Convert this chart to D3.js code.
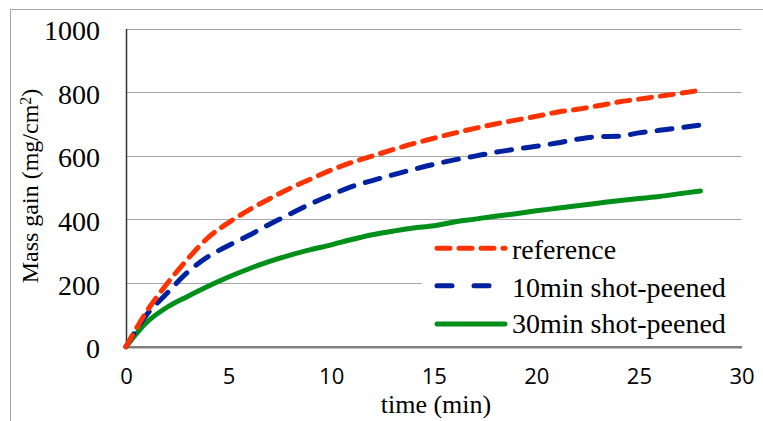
<!DOCTYPE html>
<html><head><meta charset="utf-8">
<script src="https://cdn.jsdelivr.net/npm/d3@7"></script>
<style>body{margin:0;background:#fff}svg{display:block}</style>
</head><body>
<script>
const times = [0,1,2,3,4,5,6,7,8,9,10,11,12,13,14,15,16,17,18,19,20,21,22,23,24,25,26,27,28];
const referenceVals = [0,110,198,275,343,390,430,465,498,527,555,579,599,619,638,655,671,686,700,712,724,737,746,757,769,778,787,796,806];
const shot10Vals = [0,100,168,234,283,318,350,385,417,449,477,503,522,540,557,573,587,599,611,621,630,640,652,660,661,672,680,688,697];
const shot30Vals = [0,76,124,158,190,219,245,268,288,305,320,337,352,363,373,380,392,401,410,418,427,435,443,451,459,466,472,481,489];
const seriesNames = ["reference","10min shot-peened","30min shot-peened"];
const xTicks = [0,5,10,15,20,25,30];
const yTicks = [0,200,400,600,800,1000];

const W=763,H=421;
const svg=d3.select("body").append("svg").attr("width",W).attr("height",H);
const x=d3.scaleLinear().domain([0,30]).range([126,741.5]);
const y=d3.scaleLinear().domain([0,1000]).range([346.7,28.5]);
const serif="'Liberation Serif','Times New Roman',serif";

svg.append("rect").attr("x",10.5).attr("y",9.5).attr("width",900).attr("height",600)
  .attr("fill","none").attr("stroke","#a6a6a6").attr("stroke-width",1);

// gridlines
svg.append("g").selectAll("line").data(yTicks.filter(d=>d>0)).join("line")
  .attr("x1",x(0)).attr("x2",x(30)).attr("y1",d=>Math.round(y(d))+0.5).attr("y2",d=>Math.round(y(d))+0.5)
  .attr("stroke","#a6a6a6").attr("stroke-width",1.2);

// y axis
const ya=svg.append("g").attr("transform",`translate(${x(0)},0)`)
  .call(d3.axisLeft(y).tickValues(yTicks).tickSize(0).tickPadding(26).tickFormat(d3.format("d")));
ya.select(".domain").attr("stroke","#333").attr("stroke-width",1.5);
ya.selectAll("text").attr("font-family",serif).attr("font-size",28).attr("fill","#000").attr("dy","0.4em");

// x axis
const xa=svg.append("g").attr("transform",`translate(0,${y(0)})`)
  .call(d3.axisBottom(x).tickValues(xTicks).tickSize(0).tickPadding(22).tickFormat(d3.format("d")));
xa.select(".domain").attr("stroke","#808080").attr("stroke-width",2.5);
xa.selectAll("text").attr("font-family","'Open Sans',sans-serif").attr("font-size",22).attr("fill","#000");

// titles
svg.append("text").attr("x",436).attr("y",413).attr("text-anchor","middle")
  .attr("font-family",serif).attr("font-size",26).text("time (min)");
const yt=svg.append("text").attr("transform","translate(38,186) rotate(-90)").attr("text-anchor","middle")
  .attr("font-family",serif).attr("font-size",24);
yt.append("tspan").text("Mass gain (mg/cm");
yt.append("tspan").attr("dy","-0.45em").attr("font-size",16).text("2");
yt.append("tspan").attr("dy","0.3em").text(")");

const styles=[
  {color:"#ff3300",dash:"13,9",legendDash:"13,9"},
  {color:"#0022a0",dash:"15,12",legendDash:"15,22"},
  {color:"#00901a",dash:null,legendDash:null}
];
const allVals=[referenceVals,shot10Vals,shot30Vals];
const line=d3.line().x((d,i)=>x(times[i])).y(d=>y(d)).curve(d3.curveMonotoneX);

// legend background
svg.append("rect").attr("x",422).attr("y",226).attr("width",319).attr("height",119).attr("fill","#fff");

// draw order: green, blue, red
[2,1,0].forEach(k=>{
  svg.append("path").datum(allVals[k]).attr("d",line).attr("fill","none")
    .attr("stroke",styles[k].color).attr("stroke-width",5)
    .attr("stroke-linecap","round").attr("stroke-linejoin","round")
    .attr("stroke-dasharray",styles[k].dash);
});

// legend
const ly=[248.3,285.7,324];
const lb=[259,296.7,333.3];
seriesNames.forEach((n,k)=>{
  svg.append("line").attr("x1",437).attr("x2",505).attr("y1",ly[k]).attr("y2",ly[k])
    .attr("stroke",styles[k].color).attr("stroke-width",5).attr("stroke-linecap","round")
    .attr("stroke-dasharray",styles[k].legendDash);
  svg.append("text").attr("x",512).attr("y",lb[k]).attr("font-family",serif)
    .attr("font-size",28).text(n);
});
</script>
</body></html>
